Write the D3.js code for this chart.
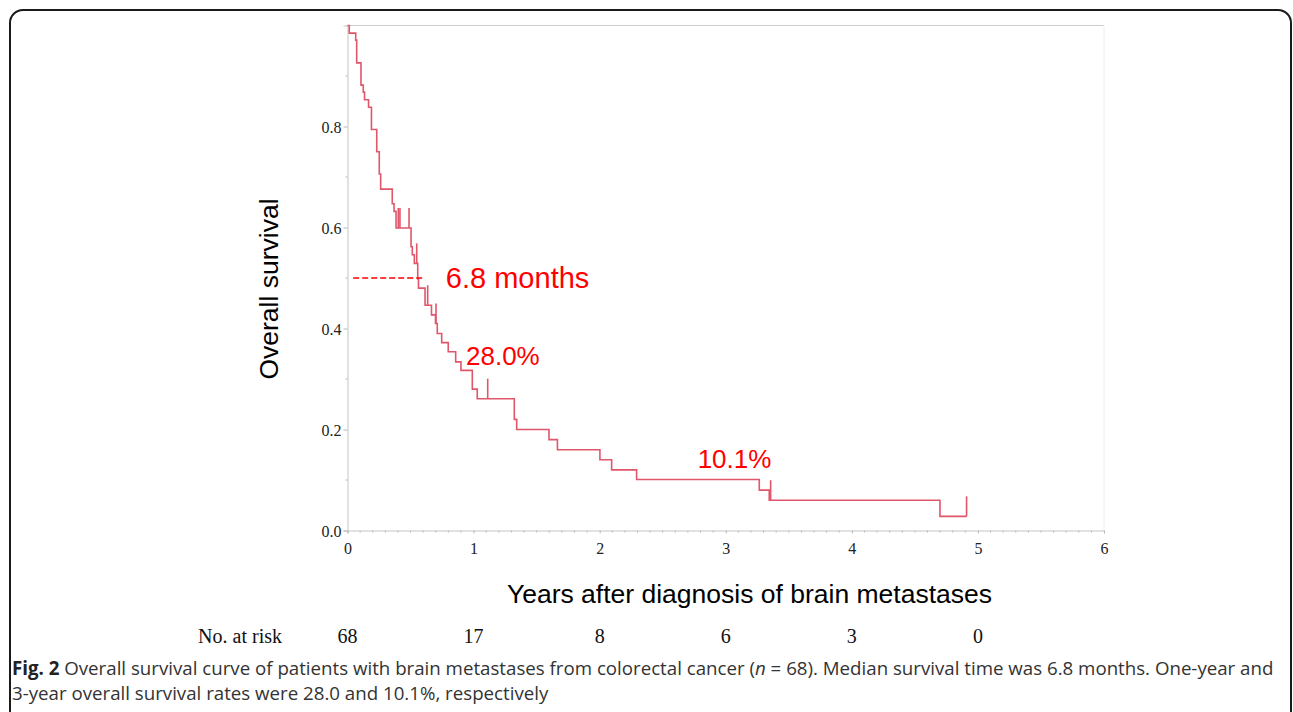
<!DOCTYPE html>
<html>
<head>
<meta charset="utf-8">
<script src="https://cdn.jsdelivr.net/npm/d3@7/dist/d3.min.js"></script>
<style>
    body { margin: 0; background: #ffffff; }
</style>
</head>
<body>
<div id="chart"></div>
<script>
// Kaplan-Meier steps (years, survival after step)
var eventTimes = [0.014, 0.065, 0.073, 0.107, 0.125, 0.135, 0.167, 0.190, 0.232, 0.252, 0.263,
    0.355, 0.369, 0.385, 0.504, 0.514, 0.530, 0.557, 0.563, 0.615, 0.666, 0.698, 0.712,
    0.747, 0.799, 0.858, 0.900, 0.990, 1.029, 1.323, 1.342, 1.598, 1.665, 2.002, 2.095,
    2.293, 3.266, 3.345, 4.699];
var survValues = [0.985, 0.971, 0.926, 0.882, 0.868, 0.853, 0.838, 0.794, 0.750, 0.706, 0.676,
    0.647, 0.632, 0.599, 0.562, 0.546, 0.529, 0.498, 0.480, 0.446, 0.427, 0.410, 0.390,
    0.372, 0.354, 0.334, 0.317, 0.280, 0.261, 0.220, 0.200, 0.180, 0.160, 0.140, 0.120,
    0.101, 0.080, 0.060, 0.028];
var censorTimes = [0.403, 0.416, 0.488, 0.549, 0.636, 0.702, 1.112, 3.356, 4.910];
var lastTime = 4.910;

var xTicks = [0, 1, 2, 3, 4, 5, 6];
var yTicks = [0.0, 0.2, 0.4, 0.6, 0.8];
var atRiskTimes = [0, 1, 2, 3, 4, 5];
var atRiskCounts = [68, 17, 8, 6, 3, 0];

var medianValue = 0.5;
var medianSpan = [0.045, 0.615];
var noteTexts = ['6.8 months', '28.0%', '10.1%'];
var noteTimes = [0.78, 0.94, 2.777];
var noteSurv = [0.48, 0.328, 0.123];
var noteSizes = [29, 26, 26];

var curveColor = '#e0566b';
var noteColor = '#ff0000';

var svgwidth = 1293, svgheight = 712;
var _svg = d3.select('#chart').append('svg')
    .attr('width', svgwidth)
    .attr('height', svgheight);

// outer rounded frame of the figure panel
_svg.append('rect')
    .attr('x', 10).attr('y', 10)
    .attr('width', 1281).attr('height', 740)
    .attr('rx', 13)
    .attr('fill', 'none')
    .attr('stroke', '#1a1a1a')
    .attr('stroke-width', 2);

var xScale = d3.scaleLinear().domain([0, 6]).range([347.5, 1104]);
var yScale = d3.scaleLinear().domain([0, 1]).range([530.5, 25.5]);

// plot frame
_svg.append('line')
    .attr('x1', xScale(0)).attr('x2', xScale(6))
    .attr('y1', yScale(1)).attr('y2', yScale(1))
    .attr('stroke', '#cccccc');
_svg.append('line')
    .attr('x1', xScale(6)).attr('x2', xScale(6))
    .attr('y1', yScale(1)).attr('y2', yScale(0))
    .attr('stroke', '#eeeeee');

// x axis
var xAxis = d3.axisBottom(xScale).tickValues(xTicks).tickSize(3).tickPadding(7)
    .tickFormat(d3.format('d'));
var gx = _svg.append('g')
    .attr('transform', 'translate(0,' + yScale(0) + ')')
    .call(xAxis);
var xMinor = d3.range(0, 60).map(function (i) { return i / 10; })
    .filter(function (d) { return Math.abs(d - Math.round(d)) > 0.01; });
gx.selectAll('.minor').data(xMinor).enter().append('line')
    .attr('class', 'minor')
    .attr('x1', function (d) { return xScale(d); })
    .attr('x2', function (d) { return xScale(d); })
    .attr('y1', 0).attr('y2', 2);

// y axis
var yAxis = d3.axisLeft(yScale).tickValues(yTicks).tickSize(4).tickPadding(2)
    .tickFormat(d3.format('.1f'));
var gy = _svg.append('g')
    .attr('transform', 'translate(' + xScale(0) + ',0)')
    .call(yAxis);
var yMinor = [0.1, 0.3, 0.5, 0.7, 0.9];
gy.selectAll('.minor').data(yMinor).enter().append('line')
    .attr('class', 'minor')
    .attr('x1', 0).attr('x2', -2)
    .attr('y1', function (d) { return yScale(d); })
    .attr('y2', function (d) { return yScale(d); });

[gx, gy].forEach(function (g) {
    g.select('.domain').attr('stroke', '#c4c4c4');
    g.selectAll('line').attr('stroke', '#b8b8b8');
    g.selectAll('text')
        .attr('font-family', '"Liberation Serif", "Times New Roman", serif')
        .attr('font-size', '16px')
        .attr('fill', '#222222');
});
gx.selectAll('.tick text').attr('dy', '0.85em');
gy.selectAll('.tick text').attr('dy', '0.36em');

// survival curve
function survAt(t) {
    var s = 1;
    for (var i = 0; i < eventTimes.length; i++) {
        if (eventTimes[i] <= t) s = survValues[i];
    }
    return s;
}
var pts = [[0, 1]];
eventTimes.forEach(function (t, i) { pts.push([t, survValues[i]]); });
pts.push([lastTime, survAt(lastTime)]);

var line = d3.line()
    .x(function (d) { return xScale(d[0]); })
    .y(function (d) { return yScale(d[1]); })
    .curve(d3.curveStepAfter);

_svg.append('path')
    .datum(pts)
    .attr('d', line)
    .attr('fill', 'none')
    .attr('stroke', curveColor)
    .attr('stroke-width', 1.6);

// censor marks
_svg.selectAll('.censor').data(censorTimes).enter().append('line')
    .attr('class', 'censor')
    .attr('x1', function (d) { return xScale(d); })
    .attr('x2', function (d) { return xScale(d); })
    .attr('y1', function (d) { return yScale(survAt(d)); })
    .attr('y2', function (d) { return yScale(survAt(d)) - 20; })
    .attr('stroke', curveColor)
    .attr('stroke-width', 1.6);

// median line
_svg.append('line')
    .attr('x1', xScale(medianSpan[0])).attr('x2', xScale(medianSpan[1]))
    .attr('y1', yScale(medianValue)).attr('y2', yScale(medianValue))
    .attr('stroke', noteColor)
    .attr('stroke-width', 1.4)
    .attr('stroke-dasharray', '6,3');

// annotations
_svg.selectAll('.note').data(noteTexts).enter().append('text')
    .attr('class', 'note')
    .attr('x', function (d, i) { return xScale(noteTimes[i]); })
    .attr('y', function (d, i) { return yScale(noteSurv[i]); })
    .attr('font-family', '"Liberation Sans", Arial, sans-serif')
    .attr('font-size', function (d, i) { return noteSizes[i] + 'px'; })
    .attr('fill', noteColor)
    .text(function (d) { return d; });

// axis titles
_svg.append('text')
    .attr('transform', 'translate(278,289) rotate(-90)')
    .attr('text-anchor', 'middle')
    .attr('font-family', '"Liberation Sans", Arial, sans-serif')
    .attr('font-size', '26.5px')
    .attr('fill', '#000000')
    .text('Overall survival');
_svg.append('text')
    .attr('x', 749.5).attr('y', 603)
    .attr('text-anchor', 'middle')
    .attr('font-family', '"Liberation Sans", Arial, sans-serif')
    .attr('font-size', '26.5px')
    .attr('fill', '#000000')
    .text('Years after diagnosis of brain metastases');

// number at risk
_svg.append('text')
    .attr('x', 282).attr('y', 643)
    .attr('text-anchor', 'end')
    .attr('font-family', '"Liberation Serif", "Times New Roman", serif')
    .attr('font-size', '20px')
    .attr('fill', '#111111')
    .text('No. at risk');
_svg.selectAll('.risk').data(atRiskCounts).enter().append('text')
    .attr('class', 'risk')
    .attr('x', function (d, i) { return xScale(atRiskTimes[i]); })
    .attr('y', 643)
    .attr('text-anchor', 'middle')
    .attr('font-family', '"Liberation Serif", "Times New Roman", serif')
    .attr('font-size', '20px')
    .attr('fill', '#111111')
    .text(function (d) { return d; });

// caption
var cap = _svg.append('text')
    .attr('font-family', '"Open Sans", "Noto Sans", sans-serif')
    .attr('font-size', '18.7px')
    .attr('fill', '#333333');
var l1 = cap.append('tspan').attr('x', 12).attr('y', 675);
l1.append('tspan').attr('font-weight', 'bold').attr('fill', '#222222').text('Fig. 2');
l1.append('tspan').text(' Overall survival curve of patients with brain metastases from colorectal cancer (');
l1.append('tspan').attr('font-style', 'italic').text('n');
l1.append('tspan').text(' = 68). Median survival time was 6.8 months. One-year and');
cap.append('tspan').attr('x', 12).attr('y', 700)
    .text('3-year overall survival rates were 28.0 and 10.1%, respectively');
</script>
</body>
</html>
